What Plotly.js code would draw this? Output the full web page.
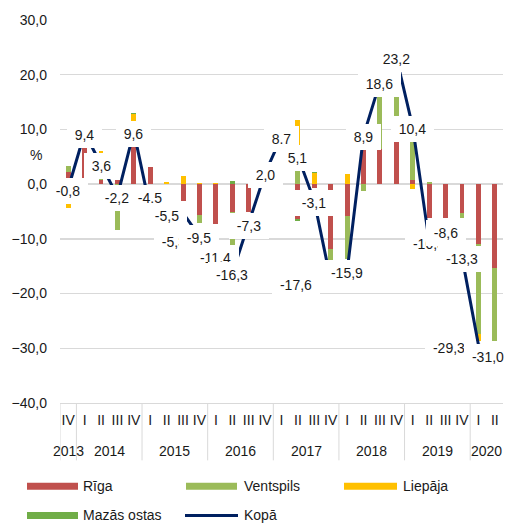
<!DOCTYPE html>
<html><head><meta charset="utf-8">
<script src="https://cdn.plot.ly/plotly-3.0.1.min.js"></script>
<style>html,body{margin:0;padding:0;background:#fff}#chart{width:508px;height:524px}</style>
</head><body><div id="chart"></div>
<script>
// ---- data ----
const years = ['2013','2014','2014','2014','2014','2015','2015','2015','2015','2016','2016','2016','2016','2017','2017','2017','2017','2018','2018','2018','2018','2019','2019','2019','2019','2020','2020'];
const quarters = ['IV','I','II','III','IV','I','II','III','IV','I','II','III','IV','I','II','III','IV','I','II','III','IV','I','II','III','IV','I','II'];
const riga       = [2.3, 6.7, 0.8, 0.7, 7.2, 3.1, 0, -3.0, -5.6, -7.2, -5.0, -5.0, 0, 0, -6.3, -0.7, -11.8, -5.9, 6.4, 6.4, 7.8, 0.8, -6.25, -6.25, -5.3, -11.0, -15.4];
const ventspils  = [1.0, 0, 4.8, -8.3, 0, 0, 0, 0, -1.55, 0, -6.8, 0, -0.3, 0, 2.6, 0, -2.0, -7.7, -1.3, 12.2, 15.4, 8.5, 0.35, 0, -0.95, -16.4, -13.2];
const liepaja    = [-4.4, 0, 0.5, 0, 5.6, 0, 0.35, 1.4, 0.3, 0.3, 0, 0, 0, 0, 9.1, 2.0, 0, 1.8, 0, 0, 0, -0.8, 0, 0, 0, -1.2, 0];
const mazasOstas = [0, 0, 0, 0, 0.25, 0, 0, 0, 0, 0, 0.5, 0, 0, 0, -0.4, 0.3, 0, 0, 0, 0, 0, 0, 0, 0, 0, 0, 0];
const kopa       = [-0.8, 9.4, 3.6, -2.2, 9.6, -4.5, -5.5, -5.3, -9.5, -11.4, -16.3, -7.3, 2.0, 8.7, 5.1, -3.1, -17.6, -15.9, 8.9, 18.6, 23.2, 10.4, -10.5, -8.6, -13.3, -29.3, -31.0];
const kopaLabels = ['-0,8','9,4','3,6','-2,2','9,6','-4,5','-5,5','-5,3','-9,5','-11,4','-16,3','-7,3','2,0','8.7','5,1','-3,1','-17,6','-15,9','8,9','18,6','23,2','10,4','-10,5','-8,6','-13,3','-29,3','-31,0'];
const seriesNames = ['Rīga','Ventspils','Liepāja','Mazās ostas','Kopā'];

// ---- styles ----
const colors = ['#C0504D','#9BBB59','#FFC000','#70AD47','#002060'];
const FONT = 'Liberation Sans, Arial, sans-serif';
const TXT = '#1a1a1a';
const GRID = '#d9d9d9';
const M = {l:60, r:5, t:20, b:121.3};
const W = 508 - M.l - M.r, H = 524 - M.t - M.b;
const px2x = p => (p - M.l) / W;
const px2y = p => (524 - M.b - p) / H;
// label offsets [xshift, yshift] in px (default [0,-2])
const labelOffsets = {5:[0,11], 7:[-9,-29], 9:[0,-11], 16:[-35,-5], 25:[-29,-4], 26:[-7,-3]};

const ctx = document.createElement('canvas').getContext('2d');
ctx.font = '14px "Liberation Sans", Arial, sans-serif';
const textW = s => ctx.measureText(s).width || s.length * 7.8;

const idx = quarters.map((q,i) => i);
const barSeries = [riga, ventspils, liepaja, mazasOstas];
const traces = barSeries.map((vals, k) => ({
  type:'bar', x:idx, y:vals, name:seriesNames[k], width:0.3,
  marker:{color:colors[k], line:{width:0}}, showlegend:false, hoverinfo:'skip'
}));
traces.push({type:'scatter', mode:'lines', x:idx, y:kopa, name:seriesNames[4],
  line:{color:colors[4], width:3}, showlegend:false, hoverinfo:'skip'});

const annotations = kopa.map((v,i) => {
  const off = labelOffsets[i] || [0,-2];
  return {x:i, y:v, xref:'x', yref:'y', text:kopaLabels[i],
    width:Math.round(textW(kopaLabels[i]) + 12), height:22, align:'center', valign:'middle',
    showarrow:false, bgcolor:'#ffffff', borderpad:2, borderwidth:0, xshift:off[0], yshift:off[1],
    font:{family:FONT, size:14, color:TXT}};
});
annotations.push({xref:'paper', yref:'paper', x:px2x(28), y:px2y(155), text:'%', showarrow:false,
  font:{family:FONT, size:14, color:TXT}});

const shapes = [];
// year group labels + dividers
const groups = [];
years.forEach((y,i) => {
  if (!groups.length || groups[groups.length-1].y !== y) groups.push({y:y, s:i, e:i});
  else groups[groups.length-1].e = i;
});
groups.forEach(g => {
  annotations.push({xref:'x', yref:'paper', x:(g.s+g.e)/2, y:px2y(451), text:g.y, showarrow:false,
    yanchor:'middle', font:{family:FONT, size:14, color:TXT}});
  shapes.push({type:'line', xref:'x', yref:'paper', x0:g.s-0.5, x1:g.s-0.5, y0:px2y(402.7), y1:px2y(460),
    line:{color:GRID, width:1}});
});

// custom legend
const legendItems = [
  {k:0, sx:27, ex:78, tx:81, cy:486},
  {k:1, sx:186, ex:237, tx:242, cy:486},
  {k:2, sx:344, ex:397, tx:401, cy:486},
  {k:3, sx:27, ex:78, tx:81, cy:515},
  {k:4, sx:185, ex:238, tx:242, cy:515, line:true}
];
legendItems.forEach(it => {
  if (it.line) {
    shapes.push({type:'line', xref:'paper', yref:'paper', x0:px2x(it.sx), x1:px2x(it.ex),
      y0:px2y(it.cy), y1:px2y(it.cy), line:{color:colors[it.k], width:3}});
  } else {
    shapes.push({type:'rect', xref:'paper', yref:'paper', x0:px2x(it.sx), x1:px2x(it.ex),
      y0:px2y(it.cy+3.5), y1:px2y(it.cy-3.5), fillcolor:colors[it.k], line:{width:0}});
  }
  annotations.push({xref:'paper', yref:'paper', x:px2x(it.tx), y:px2y(it.cy), xanchor:'left', yanchor:'middle',
    text:seriesNames[it.k], showarrow:false, font:{family:FONT, size:14, color:TXT}});
});

const layout = {
  width:508, height:524, margin:M, paper_bgcolor:'#fff', plot_bgcolor:'#fff',
  barmode:'relative', bargap:0, separators:', ',
  font:{family:FONT, size:14, color:TXT},
  xaxis:{range:[-0.5,26.5], showgrid:false, showline:true, linecolor:GRID, linewidth:1, zeroline:false,
    tickvals:idx, ticktext:quarters, tickangle:0, ticks:'', ticklabelstandoff:4,
    tickfont:{family:FONT, size:14, color:TXT}, fixedrange:true},
  yaxis:{range:[-40,30], dtick:10, tick0:0, tickformat:'.1f', showgrid:true, gridcolor:GRID, gridwidth:1.3,
    zeroline:false, showline:false, ticks:'', ticklabelstandoff:12,
    tickfont:{family:FONT, size:14, color:TXT}, fixedrange:true},
  annotations:annotations, shapes:shapes, showlegend:false, hovermode:false
};
Plotly.newPlot('chart', traces, layout, {staticPlot:true, displayModeBar:false});
</script></body></html>
